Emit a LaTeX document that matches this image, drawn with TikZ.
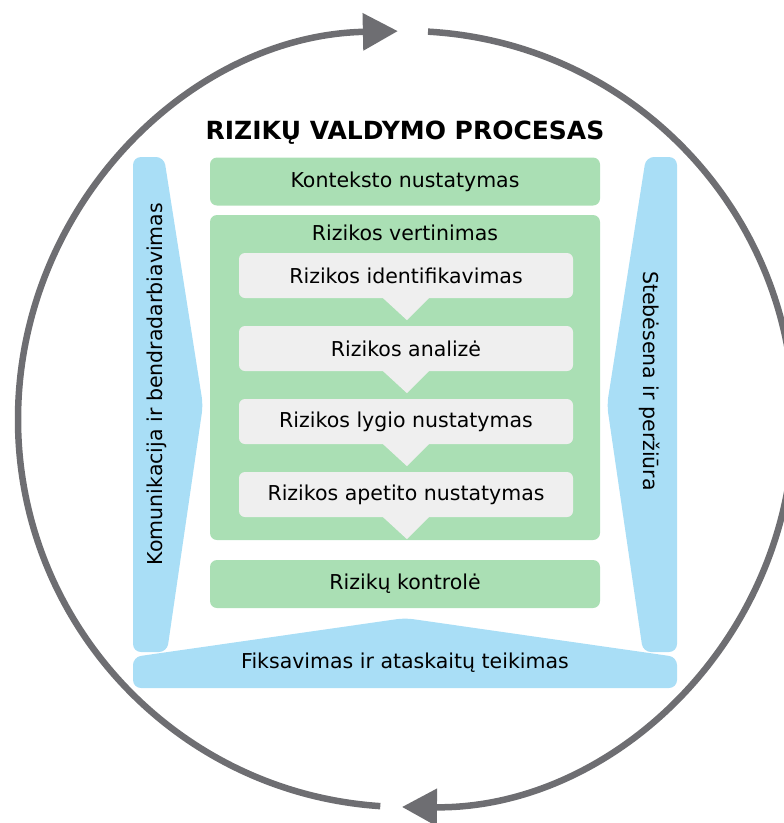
\documentclass[tikz,border=0pt]{standalone}
\usepackage{fontspec}
\setmainfont{DejaVu Sans}
\usetikzlibrary{arrows.meta}

\definecolor{zalia}{RGB}{170,223,180}
\definecolor{melyna}{RGB}{169,222,246}
\definecolor{pilka}{RGB}{239,239,239}
\definecolor{ratas}{RGB}{110,110,114}

\tikzset{
  tekstas/.style={font=\fontsize{20.5}{24}\selectfont},
  zaliasbox/.style={tekstas, fill=zalia, rounded corners=7pt, inner sep=0pt,
    minimum width=390pt, minimum height=48pt},
  pilkasbox/.style={tekstas, fill=pilka, rounded corners=6pt, inner sep=0pt,
    minimum width=334pt, minimum height=45pt},
  ratolinija/.style={draw=ratas, line width=6.5pt,
    -{Triangle[length=35pt,width=36pt]}},
}

\begin{document}
\begin{tikzpicture}[x=1pt,y=-1pt]%
\useasboundingbox (0,0) rectangle (784,823);%
% ratas
\draw[ratolinija] (406,419) ++(273.25:388) arc[start angle=273.25, end angle=450.6, radius=388];%
\draw[ratolinija] (406,419) ++(93.8:388) arc[start angle=93.8, end angle=268.8, radius=388];%
% melynos juostos
\fill[melyna, rounded corners=8pt] (133,652) -- (133,157) -- (164,157) -- (203,405) -- (167,652) -- cycle;%
\fill[melyna, rounded corners=8pt] (677,652) -- (677,157) -- (646,157) -- (607,405) -- (643,652) -- cycle;%
\fill[melyna, rounded corners=8pt] (133,688) -- (133,657) -- (405,618) -- (677,657) -- (677,688) -- cycle;%
\node[tekstas, rotate=90] (komunikacija) at (157,384) {Komunikacija ir bendradarbiavimas};%
\node[tekstas, rotate=-90] (stebesena) at (650,381) {Stebėsena ir peržiūra};%
\node[tekstas] (fiksavimas) at (405,663) {Fiksavimas ir ataskaitų teikimas};%
% pavadinimas
\node[font=\bfseries\fontsize{25}{29}\selectfont] (pavadinimas) at (405,133) {RIZIKŲ VALDYMO PROCESAS};%
% zalios dezes
\node[zaliasbox] (kontekstas) at (405,181.5) {Konteksto nustatymas};%
\node[zaliasbox, minimum height=325pt] (vertinimas) at (405,377.5) {};%
\node[tekstas] (vertinimaspav) at (405,233) {Rizikos vertinimas};%
\node[zaliasbox] (kontrole) at (405,584) {Rizikų kontrolė};%
% pilkos dezes su uodegomis
\node[pilkasbox] (identifikavimas) at (406,275.5) {Rizikos identifikavimas};%
\node[pilkasbox] (analize) at (406,348.5) {Rizikos analizė};%
\node[pilkasbox] (lygis) at (406,421.5) {Rizikos lygio nustatymas};%
\node[pilkasbox] (apetitas) at (406,494.5) {Rizikos apetito nustatymas};%
\foreach \d in {identifikavimas, analize, lygis, apetitas}{%
  \fill[pilka] ([xshift=-24pt,yshift=1pt]\d.south) -- ([xshift=24pt,yshift=1pt]\d.south) -- ([xshift=1pt,yshift=-22pt]\d.south) -- cycle;%
}
\end{tikzpicture}%
\end{document}
